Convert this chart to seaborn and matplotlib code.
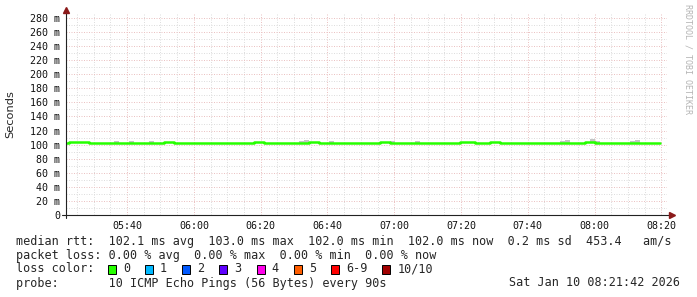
import numpy as np
import pandas as pd
import matplotlib
matplotlib.use("Agg")
import matplotlib.pyplot as plt
from matplotlib.patches import Rectangle
import seaborn as sns

# ---------------- data ----------------
step_start_min = 5 * 60 + 21 + 6 / 60      # 05:21:06, first 90 s step
step_minutes = 1.5
view_start_min = 5 * 60 + 21 + 42 / 60     # 05:21:42
view_end_min = 8 * 60 + 21 + 42 / 60       # 08:21:42

median_ms = [
    102, 104, 104, 104, 104, 102, 102, 102, 102, 102,
    102, 102, 102, 102, 102, 102, 102, 102, 102, 102,
    104, 104, 102, 102, 102, 102, 102, 102, 102, 102,
    102, 102, 102, 102, 102, 102, 102, 102, 104, 104,
    102, 102, 102, 102, 102, 102, 102, 102, 102, 104,
    104, 102, 102, 102, 102, 102, 102, 102, 102, 102,
    102, 102, 102, 104, 104, 102, 102, 102, 102, 102,
    102, 102, 102, 102, 102, 102, 102, 102, 102, 104,
    104, 104, 102, 102, 102, 104, 104, 102, 102, 102,
    102, 102, 102, 102, 102, 102, 102, 102, 102, 102,
    102, 102, 102, 102, 104, 104, 102, 102, 102, 102,
    102, 102, 102, 102, 102, 102, 102, 102, 102,
]

smoke_top_ms = [
    102, 104, 104, 104, 104, 102, 102, 102, 102, 102,
    105.3, 102, 102, 105.3, 102, 102, 102, 105.3, 102, 102,
    104, 104, 102, 102, 102, 102, 102, 102, 102, 102,
    102, 102, 102, 102, 102, 102, 102, 102, 104, 104,
    102, 102, 102, 102, 102, 102, 102, 105.3, 106.7, 104,
    104, 102, 102, 105.3, 102, 102, 102, 102, 102, 102,
    102, 102, 102, 104, 104, 104.5, 102, 102, 102, 102,
    105.3, 102, 102, 102, 102, 102, 102, 102, 102, 104,
    104, 104, 102, 102, 102, 104, 104, 102, 102, 102,
    102, 102, 102, 102, 102, 102, 102, 102, 102, 105.3,
    106.7, 102, 102, 102, 104, 108, 105.3, 102, 102, 102,
    102, 102, 102, 105.3, 106.7, 102, 102, 102, 102,
]

y_ticks = [0, 20, 40, 60, 80, 100, 120, 140, 160, 180, 200, 220, 240, 260, 280]
y_tick_labels = ["0"] + [f"{v} m" for v in y_ticks[1:]]
x_tick_labels = ["05:40", "06:00", "06:20", "06:40", "07:00",
                 "07:20", "07:40", "08:00", "08:20"]

loss_labels = ["0", "1", "2", "3", "4", "5", "6-9", "10/10"]
loss_colors = ["#26ff00", "#00b8ff", "#0059ff", "#5e00ff",
               "#ff00ea", "#ff5e00", "#ff0000", "#a10000"]

row_rtt = ("median rtt:  102.1 ms avg  103.0 ms max  102.0 ms min  "
           "102.0 ms now  0.2 ms sd  453.4   am/s")
row_loss = "packet loss: 0.00 % avg  0.00 % max  0.00 % min  0.00 % now"
row_color = "loss color:"
row_probe = "probe:       10 ICMP Echo Pings (56 Bytes) every 90s"
row_date = "Sat Jan 10 08:21:42 2026"
watermark = "RRDTOOL / TOBI OETIKER"

# ---------------- frame ----------------
n = len(median_ms)
minutes = step_start_min + step_minutes * np.arange(n + 1)
df = pd.DataFrame({
    "minute": minutes,
    "median": median_ms + [median_ms[-1]],
    "smoke": smoke_top_ms + [smoke_top_ms[-1]],
})

sns.set_theme(style="white")
plt.rcParams["font.family"] = ["DejaVu Sans Mono", "DejaVu Sans"]

W, H = 697, 297
fig = plt.figure(figsize=(W / 100, H / 100), dpi=100)
fig.patch.set_facecolor("white")
ax_l, ax_r, ax_t, ax_b = 66, 667, 13, 215
ax = fig.add_axes([ax_l / W, 1 - ax_b / H, (ax_r - ax_l) / W, (ax_b - ax_t) / H])
ax.set_facecolor("white")

# smoke
ax.fill_between(df["minute"], df["median"], df["smoke"], step="post",
                color="#c4c4c4", lw=0, zorder=2)
# median line
sns.lineplot(data=df, x="minute", y="median", drawstyle="steps-post",
             color="#26ff00", lw=1.8, estimator=None, ax=ax, zorder=3)

ax.set_xlim(view_start_min, view_end_min)
ax.set_ylim(0, 287.1)

major_x = [5 * 60 + 40 + 20 * i for i in range(len(x_tick_labels))]
minor_x = [m for m in np.arange(5 * 60 + 25, view_end_min, 5) if m not in major_x]
ax.set_xticks(major_x)
ax.set_xticklabels(x_tick_labels)
ax.set_xticks(minor_x, minor=True)
ax.set_yticks(y_ticks)
ax.set_yticklabels(y_tick_labels)
ax.set_yticks(np.arange(10, 287, 20), minor=True)

ax.grid(which="minor", axis="both", color="#dedede", ls=(0, (1, 1.5)), lw=0.72, zorder=0)
ax.grid(which="major", axis="both", color="#ebc3c3", ls=(0, (1, 1.5)), lw=0.72, zorder=0)
ax.set_axisbelow(True)

ax.tick_params(axis="both", which="both", length=0, labelsize=7.2, colors="#111111")
ax.tick_params(axis="y", pad=4.3)
ax.tick_params(axis="x", pad=4.5)
ax.set_xlabel("")
ax.set_ylabel("")
for s in ax.spines.values():
    s.set_visible(False)

# axes lines with arrows
axw = ax_r - ax_l
axh = ax_b - ax_t
ax.plot([-4 / axw, 1 + 2 / axw], [0, 0], color="#222222", lw=0.8,
        transform=ax.transAxes, clip_on=False, zorder=5)
ax.plot([0, 0], [-3 / axh, 1 + 2 / axh], color="#222222", lw=0.8,
        transform=ax.transAxes, clip_on=False, zorder=5)
ax.plot([1 + 5 / axw], [0], marker=">", ms=4, color="#8b1a1a", mec="#8b1a1a",
        transform=ax.transAxes, clip_on=False, zorder=6)
ax.plot([0], [1 + 3 / axh], marker="^", ms=4, color="#8b1a1a", mec="#8b1a1a",
        transform=ax.transAxes, clip_on=False, zorder=6)

# y label and watermark
fig.text(10 / W, 1 - 114 / H, "Seconds", rotation=90, fontsize=8.2,
         family=["DejaVu Sans"], ha="center", va="center")
fig.text(688 / W, 1 - 4 / H, watermark, rotation=270, fontsize=6,
         color="#b4b4b4", ha="center", va="top")

# legend text
fs = 8.5
cw = 7.13
x0 = 16
fig.text(x0 / W, 1 - 241 / H, row_rtt, fontsize=fs, va="center")
fig.text(x0 / W, 1 - 255 / H, row_loss, fontsize=fs, va="center")
fig.text(x0 / W, 1 - 269 / H, row_color, fontsize=fs, va="center")
fig.text(x0 / W, 1 - 283 / H, row_probe, fontsize=fs, va="center")
fig.text(680 / W, 1 - 283 / H, row_date, fontsize=fs, va="center", ha="right")

bx = 108
for lab, col in zip(loss_labels, loss_colors):
    fig.patches.append(Rectangle((bx / W, 1 - 273.5 / H), 8 / W, 9 / H,
                                 transform=fig.transFigure, facecolor=col,
                                 edgecolor="black", lw=0.7))
    fig.text((bx + 15) / W, 1 - 269 / H, lab, fontsize=fs, va="center")
    bx += 30 + len(lab) * cw

fig.savefig("out.png", dpi=100, facecolor="white")
